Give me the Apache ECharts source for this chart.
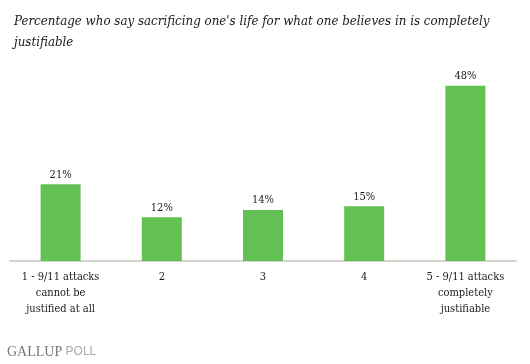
<!DOCTYPE html>
<html><head><meta charset="utf-8">
<script src="https://cdn.jsdelivr.net/npm/echarts@6/dist/echarts.min.js"></script>
<style>html,body{margin:0;padding:0;background:#fff}#c{width:530px;height:364px}</style>
</head><body><div id="c"></div>
<script>
const categories = ["1 - 9/11 attacks\ncannot be\njustified at all", "2", "3", "4", "5 - 9/11 attacks\ncompletely\njustifiable"];
const values = [21, 12, 14, 15, 48];
const titleText = "Percentage who say sacrificing one's life for what one believes in is completely\njustifiable";
const serif = "'DejaVu Serif Condensed', 'DejaVu Serif', serif";

const chart = echarts.init(document.getElementById('c'));
chart.setOption({
  animation: false,
  backgroundColor: '#fff',
  title: {
    text: titleText, left: 9, top: 6,
    textStyle: {fontFamily: serif, fontStyle: 'italic', fontWeight: 'normal', fontSize: 13.2, lineHeight: 21, color: '#1a1a1a'}
  },
  graphic: [{
    type: 'text', left: 7, top: 345,
    style: {rich: {a: {fontFamily: 'Liberation Serif', fontSize: 14, fill: '#777'}, b: {fontFamily: 'Liberation Sans', fontSize: 12, fill: '#aaa'}}, text: '{a|GALLUP} {b|POLL}'}
  }],
  grid: {left: 10, right: 14, top: 42, bottom: 103, containLabel: false},
  xAxis: {
    type: 'category', data: categories,
    axisLine: {lineStyle: {color: '#d4d4cc', width: 2}},
    axisTick: {show: false},
    axisLabel: {interval: 0, margin: 8, fontFamily: serif, fontSize: 11, lineHeight: 16, color: '#1a1a1a'}
  },
  yAxis: {type: 'value', min: 0, max: 60, show: false, splitLine: {show: false}},
  series: [{
    type: 'bar', data: values, barWidth: 40,
    itemStyle: {color: '#62c152'},
    label: {show: true, position: 'top', distance: 4, formatter: '{c}%', fontFamily: serif, fontSize: 11, color: '#1a1a1a'}
  }]
});
</script></body></html>
